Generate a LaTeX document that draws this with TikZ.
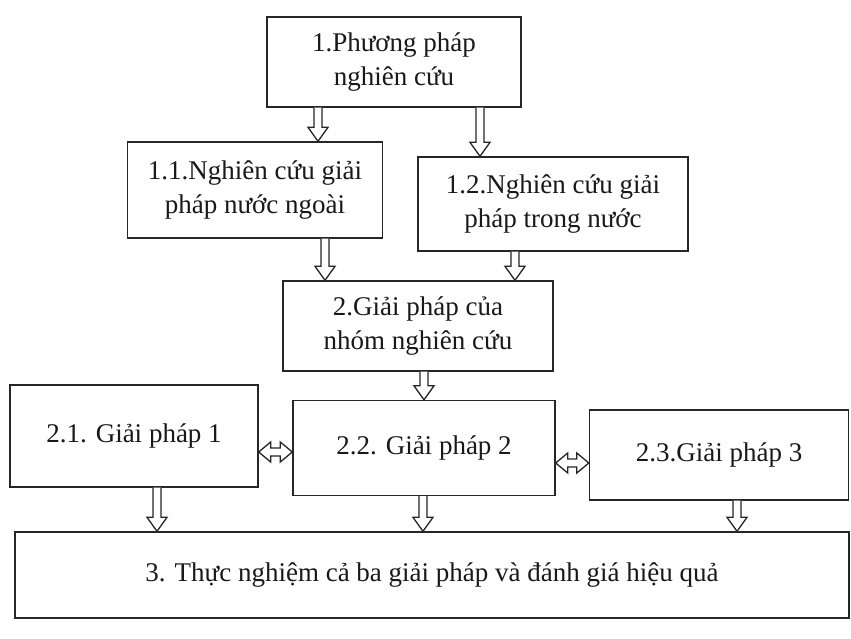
\documentclass[tikz,border=0pt]{standalone}
\usepackage{fontspec}
\setmainfont{Liberation Serif}
\usetikzlibrary{calc}
\tikzset{
  box/.style={draw=black!85, line width=1.4pt, align=center, inner sep=2pt,
    font=\fontsize{27}{34}\selectfont, text=black!90},
  blk/.style={draw=black!85, line width=1.3pt, fill=white, line join=miter}
}
\newcommand{\varr}[3]{\draw[blk] let \p1=(#1), \p2=(#2) in
  (#3pt-4pt,\y1) -- (#3pt-4pt,\y2+14pt) -- (#3pt-10pt,\y2+14pt) -- (#3pt,\y2)
  -- (#3pt+10pt,\y2+14pt) -- (#3pt+4pt,\y2+14pt) -- (#3pt+4pt,\y1);}
\newcommand{\harr}[3]{\draw[blk] let \p1=(#1), \p2=(#2) in
  (\x1,-#3pt) -- (\x1+12pt,-#3pt+10pt) -- (\x1+12pt,-#3pt+4pt) -- (\x2-12pt,-#3pt+4pt)
  -- (\x2-12pt,-#3pt+10pt) -- (\x2,-#3pt) -- (\x2-12pt,-#3pt-10pt) -- (\x2-12pt,-#3pt-4pt)
  -- (\x1+12pt,-#3pt-4pt) -- (\x1+12pt,-#3pt-10pt) -- cycle;}
\begin{document}
\begin{tikzpicture}[x=1pt,y=-1pt]
\useasboundingbox[fill=white] (0,0) rectangle (851,639);
\node[box, minimum width=254pt, minimum height=90pt] (b1) at (394,62) {1.Phương pháp\\nghiên cứu};
\node[box, minimum width=255pt, minimum height=96pt] (b11) at (255,190) {1.1.Nghiên cứu giải\\pháp nước ngoài};
\node[box, minimum width=270pt, minimum height=94pt] (b12) at (553,204) {1.2.Nghiên cứu giải\\pháp trong nước};
\node[box, minimum width=270pt, minimum height=90pt] (b2) at (418,326) {2.Giải pháp của\\nhóm nghiên cứu};
\node[box, minimum width=248pt, minimum height=102pt] (b21) at (134,436) {2.1. Giải pháp 1};
\node[box, minimum width=262pt, minimum height=95pt] (b22) at (424,448) {2.2. Giải pháp 2};
\node[box, minimum width=259pt, minimum height=90pt] (b23) at (719,455) {2.3.Giải pháp 3};
\node[box, minimum width=834pt, minimum height=86pt] (b3) at (432,575) {3. Thực nghiệm cả ba giải pháp và đánh giá hiệu quả};
\varr{b1.south}{b11.north}{318}
\varr{b1.south}{b12.north}{480}
\varr{b11.south}{b2.north}{325}
\varr{b12.south}{b2.north}{515}
\varr{b2.south}{b22.north}{424}
\varr{b21.south}{b3.north}{157}
\varr{b22.south}{b3.north}{423}
\varr{b23.south}{b3.north}{737}
\harr{b21.east}{b22.west}{452}
\harr{b22.east}{b23.west}{463}
\end{tikzpicture}
\end{document}
